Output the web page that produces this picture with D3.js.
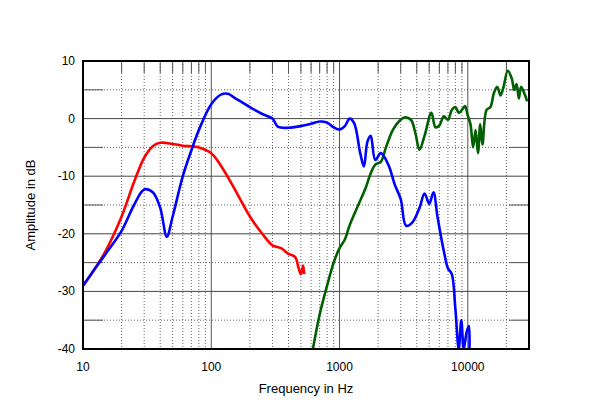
<!DOCTYPE html>
<html><head><meta charset="utf-8">
<script src="https://cdn.jsdelivr.net/npm/d3@7"></script>
<style>body{margin:0;background:#fff;font-family:Arial,"Liberation Sans",sans-serif}</style>
</head><body>
<script>
// frequency response curves: [Hz, dB]
var redCurve = [[10,-29],[12,-26.5],[15,-23],[20,-17],[25,-11],[30,-6.8],[35,-4.8],[40,-4.2],[50,-4.4],[60,-4.7],[80,-5],[100,-6],[120,-8.3],[150,-12],[200,-17],[250,-20],[300,-22],[350,-22.5],[400,-23.5],[450,-24],[480,-26],[500,-27],[520,-25.5],[530,-27]];
var blueCurve = [[10,-29],[12,-26.5],[15,-23.5],[20,-19.5],[25,-15],[30,-12.3],[35,-12.8],[40,-15.5],[45,-20.5],[50,-17],[60,-10],[70,-5.5],[80,-2],[100,2.5],[120,4.2],[135,4.3],[150,3.7],[200,2],[250,0.8],[300,0],[330,-1.4],[400,-1.6],[500,-1.3],[600,-0.9],[700,-0.5],[800,-0.7],[900,-1.5],[1000,-1.9],[1100,-1.3],[1200,0],[1300,-0.8],[1450,-6],[1550,-8.3],[1650,-4],[1750,-3],[1900,-7.2],[2100,-6],[2400,-8],[2700,-11.5],[3000,-14],[3300,-18.6],[3700,-18],[4200,-15.5],[4600,-13],[5000,-14.8],[5400,-12.8],[5800,-17],[6500,-23],[7000,-26],[7500,-27],[8000,-33],[8500,-40],[8900,-35],[9300,-40],[9800,-37],[10200,-36],[10300,-40]];
var greenCurve = [[620,-40],[700,-34],[800,-29],[900,-25],[1000,-22.5],[1100,-21],[1200,-18.5],[1400,-15],[1600,-12],[1750,-9.5],[1900,-8],[2100,-7.5],[2300,-5],[2600,-2],[2900,-0.5],[3200,0.2],[3600,-0.2],[3900,-2.5],[4200,-5.4],[4600,-3],[5200,1],[5600,-1.5],[6000,-1.2],[6500,0.4],[7000,-0.2],[7500,1.5],[8000,2],[8500,1],[9000,1.5],[9500,2.2],[10000,0.5],[10500,-1],[11000,-5],[11500,-2],[12000,-6],[12500,-1],[13000,-4.5],[14000,1.5],[15000,2],[16000,4.5],[17000,5.5],[18000,4],[19000,5.5],[20500,8.3],[22000,7],[23000,5],[24000,6],[25000,3.5],[26000,5.5],[28000,4],[29000,3]];
var yTicks = [10,0,-10,-20,-30,-40];
var xTicks = [10,100,1000,10000];

var W = 600, H = 410, m = {l:83, r:71, t:61, b:61};
var svg = d3.select("body").append("svg").attr("width", W).attr("height", H);
var x = d3.scaleLog().domain([10,30000]).range([m.l, W - m.r]);
var y = d3.scaleLinear().domain([-40,10]).range([H - m.b, m.t]);

// minor vertical grid
var minors = [];
[10,100,1000,10000].forEach(function(d){ for (var k = 2; k < 10; k++) if (d*k < 30000) minors.push(d*k); });
svg.selectAll(".vminor").data(minors).enter().append("line")
  .attr("x1", x).attr("x2", x).attr("y1", m.t).attr("y2", H - m.b)
  .attr("stroke", "#666").attr("stroke-dasharray", "1,2");
svg.selectAll(".vtick").data(minors).enter().append("line")
  .attr("x1", x).attr("x2", x).attr("y1", m.t).attr("y2", m.t + 12)
  .attr("stroke", "#555");
// minor horizontal grid
var hMinor = [5,-5,-15,-25,-35];
svg.selectAll(".hminor").data(hMinor).enter().append("line")
  .attr("x1", m.l).attr("x2", W - m.r).attr("y1", y).attr("y2", y)
  .attr("stroke", "#666").attr("stroke-dasharray", "1,2");
svg.selectAll(".htick").data(hMinor).enter().append("line")
  .attr("x1", m.l).attr("x2", m.l + 20).attr("y1", y).attr("y2", y)
  .attr("stroke", "#555");
svg.selectAll(".htick2").data(hMinor).enter().append("line")
  .attr("x1", W - m.r - 20).attr("x2", W - m.r).attr("y1", y).attr("y2", y)
  .attr("stroke", "#555");
// major grid
svg.selectAll(".vmajor").data(xTicks).enter().append("line")
  .attr("x1", x).attr("x2", x).attr("y1", m.t).attr("y2", H - m.b)
  .attr("stroke", "#555");
svg.selectAll(".hmajor").data(yTicks).enter().append("line")
  .attr("x1", m.l).attr("x2", W - m.r).attr("y1", y).attr("y2", y)
  .attr("stroke", "#444");

svg.append("defs").append("clipPath").attr("id", "clip").append("rect")
  .attr("x", m.l).attr("y", m.t).attr("width", W - m.l - m.r).attr("height", H - m.t - m.b);

var line = d3.line().curve(d3.curveCatmullRom.alpha(0.5))
  .x(function(d){ return x(d[0]); }).y(function(d){ return y(d[1]); });
[[greenCurve,"#006000"],[redCurve,"#ff0000"],[blueCurve,"#0000ff"]].forEach(function(c){
  svg.append("path").datum(c[0]).attr("d", line).attr("fill", "none")
    .attr("stroke", c[1]).attr("stroke-width", 2.6).attr("stroke-linejoin", "round")
    .attr("clip-path", "url(#clip)");
});

svg.append("rect").attr("x", m.l).attr("y", m.t).attr("width", W - m.l - m.r).attr("height", H - m.t - m.b)
  .attr("fill", "none").attr("stroke", "#000").attr("stroke-width", 2);

svg.selectAll(".xl").data(xTicks).enter().append("text")
  .attr("x", x).attr("y", H - m.b + 22).attr("text-anchor", "middle")
  .attr("font-size", 12).text(function(d){ return d; });
svg.selectAll(".yl").data(yTicks).enter().append("text")
  .attr("x", m.l - 8).attr("y", function(d){ return y(d) + 4; }).attr("text-anchor", "end")
  .attr("font-size", 12).text(function(d){ return d; });
svg.append("text").attr("x", (m.l + W - m.r)/2).attr("y", H - 17).attr("text-anchor", "middle")
  .attr("font-size", 13).text("Frequency in Hz");
svg.append("text").attr("transform", "translate(35," + ((m.t + H - m.b)/2) + ") rotate(-90)")
  .attr("text-anchor", "middle").attr("font-size", 13).text("Amplitude in dB");
</script>
</body></html>
